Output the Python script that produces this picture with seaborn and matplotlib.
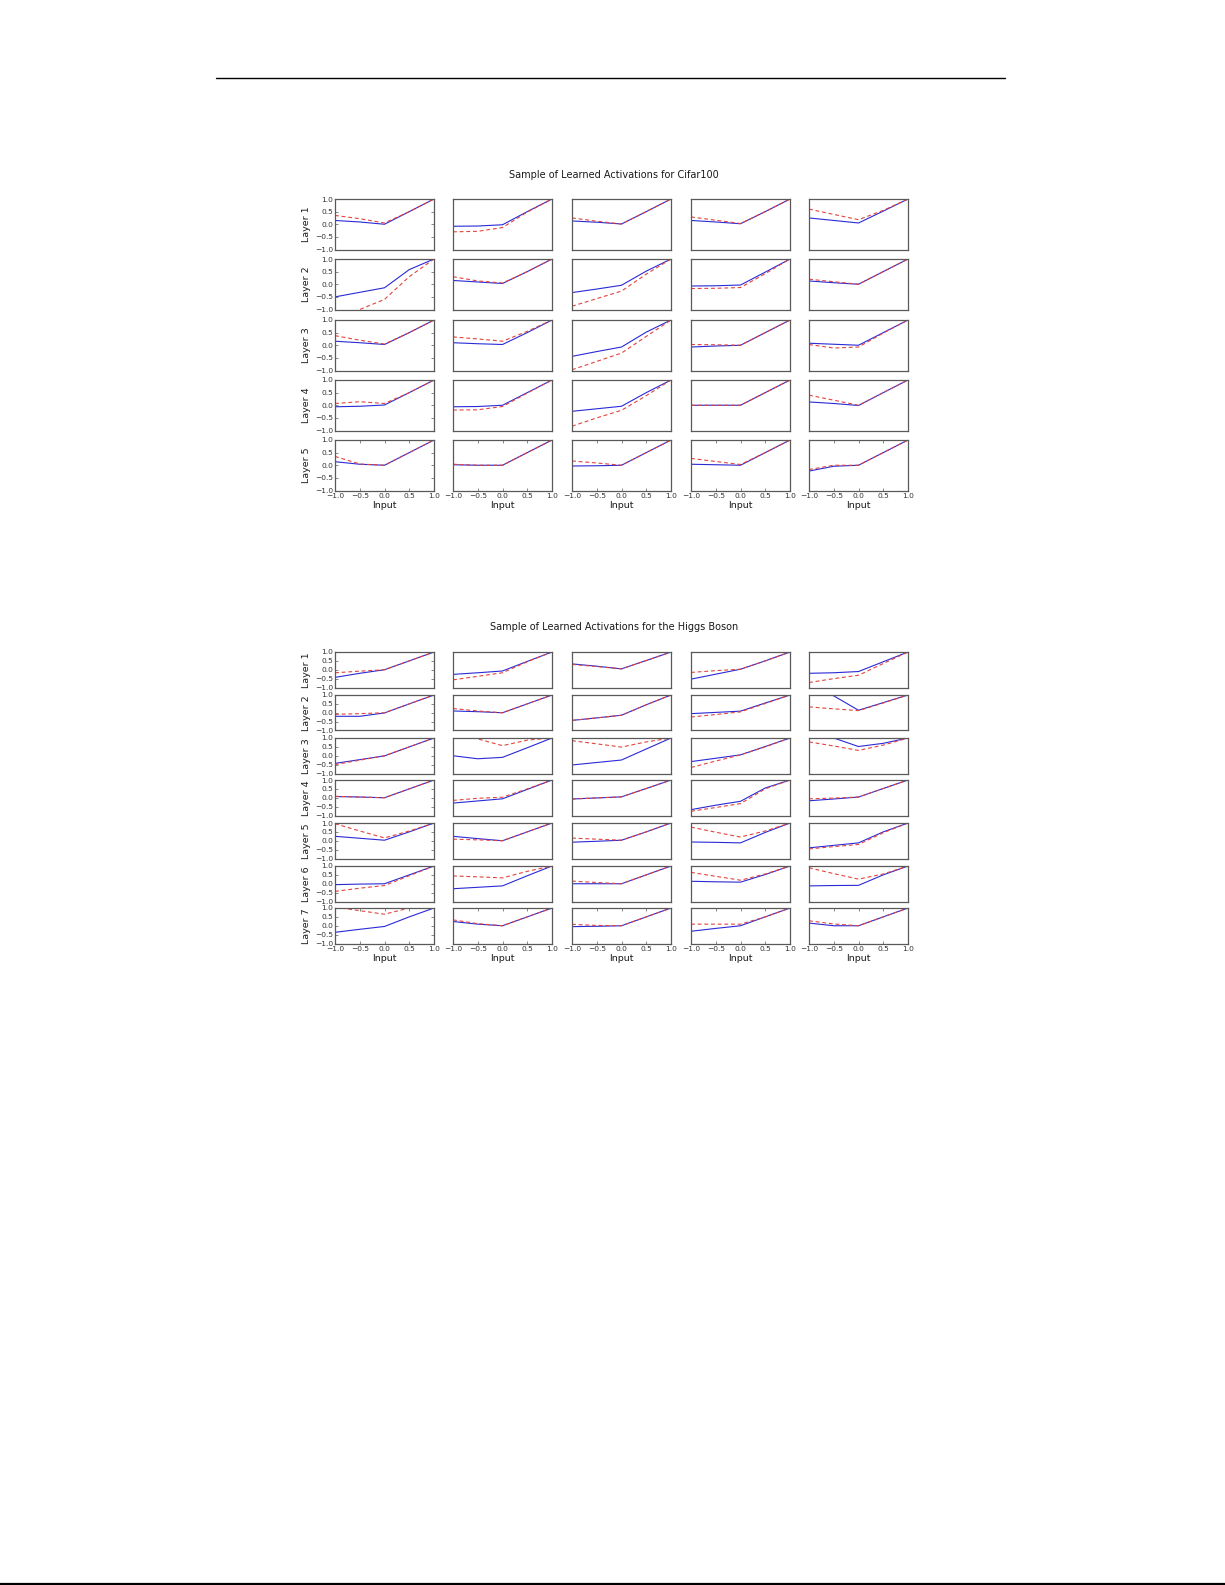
import matplotlib
matplotlib.use("Agg")
import matplotlib.pyplot as plt
from matplotlib.lines import Line2D
import seaborn as sns

# sample points along the input axis
x_in = [-1.0, -0.5, 0.0, 0.5, 1.0]
tick_vals = [-1.0, -0.5, 0.0, 0.5, 1.0]

cifar_title = "Sample of Learned Activations for Cifar100"
higgs_title = "Sample of Learned Activations for the Higgs Boson"

# Cifar100: [layer][sample] -> activation values at x_in
cifar_blue = [
    [[0.15, 0.09, 0.0, 0.5, 1], [-0.08, -0.07, -0.02, 0.5, 1], [0.13, 0.08, 0.01, 0.5, 1], [0.15, 0.09, 0.02, 0.5, 1], [0.25, 0.15, 0.05, 0.52, 1]],
    [[-0.5, -0.32, -0.14, 0.58, 1], [0.15, 0.09, 0.03, 0.5, 1], [-0.33, -0.19, -0.04, 0.52, 1], [-0.07, -0.06, -0.03, 0.48, 1], [0.13, 0.06, 0.0, 0.5, 1]],
    [[0.16, 0.1, 0.03, 0.5, 1], [0.1, 0.06, 0.03, 0.5, 1], [-0.44, -0.25, -0.07, 0.52, 1], [-0.07, -0.03, 0.0, 0.5, 1], [0.08, 0.04, 0.0, 0.5, 1]],
    [[-0.06, -0.04, 0.01, 0.5, 1], [-0.06, -0.05, 0.0, 0.5, 1], [-0.24, -0.14, -0.04, 0.5, 1], [0.0, 0.0, 0.0, 0.5, 1], [0.13, 0.07, -0.01, 0.5, 1]],
    [[0.14, 0.04, 0.0, 0.5, 1], [0.02, 0.0, 0.0, 0.5, 1], [-0.03, -0.02, 0.0, 0.5, 1], [0.04, 0.02, 0.0, 0.5, 1], [-0.23, -0.04, 0.0, 0.5, 1]],
]
cifar_red = [
    [[0.35, 0.22, 0.05, 0.5, 1], [-0.3, -0.28, -0.13, 0.48, 1], [0.25, 0.12, 0.01, 0.5, 1], [0.29, 0.16, 0.03, 0.5, 1], [0.6, 0.39, 0.18, 0.55, 1]],
    [[-1.35, -1.0, -0.6, 0.3, 1], [0.3, 0.13, 0.05, 0.5, 1], [-0.87, -0.57, -0.27, 0.4, 1], [-0.17, -0.16, -0.13, 0.42, 1], [0.2, 0.1, 0.0, 0.5, 1]],
    [[0.38, 0.2, 0.05, 0.5, 1], [0.33, 0.25, 0.16, 0.55, 1], [-0.97, -0.64, -0.31, 0.35, 1], [0.03, 0.02, 0.0, 0.5, 1], [0.03, -0.11, -0.07, 0.48, 1]],
    [[0.07, 0.14, 0.07, 0.5, 1], [-0.19, -0.18, -0.05, 0.48, 1], [-0.83, -0.5, -0.2, 0.38, 1], [0.0, 0.0, 0.0, 0.5, 1], [0.4, 0.2, 0.0, 0.5, 1]],
    [[0.35, 0.05, 0.0, 0.5, 1], [0.04, 0.0, 0.0, 0.5, 1], [0.17, 0.09, 0.0, 0.5, 1], [0.27, 0.15, 0.03, 0.5, 1], [-0.17, 0.0, 0.0, 0.5, 1]],
]

# Higgs Boson
higgs_blue = [
    [[-0.43, -0.2, 0.0, 0.5, 1], [-0.26, -0.17, -0.07, 0.47, 1], [0.33, 0.2, 0.05, 0.52, 1], [-0.53, -0.25, 0.03, 0.5, 1], [-0.2, -0.17, -0.1, 0.45, 1]],
    [[-0.2, -0.2, -0.01, 0.5, 1], [0.1, 0.06, 0.0, 0.5, 1], [-0.43, -0.29, -0.14, 0.45, 1], [-0.05, 0.02, 0.09, 0.55, 1], [1.6, 0.95, 0.14, 0.57, 1]],
    [[-0.43, -0.22, -0.01, 0.5, 1], [0.0, -0.17, -0.09, 0.45, 1], [-0.52, -0.38, -0.24, 0.38, 1], [-0.33, -0.14, 0.05, 0.52, 1], [1.5, 1.0, 0.52, 0.7, 1]],
    [[0.07, 0.04, 0.0, 0.5, 1], [-0.3, -0.18, -0.06, 0.47, 1], [-0.07, -0.01, 0.05, 0.52, 1], [-0.67, -0.42, -0.2, 0.55, 1], [-0.17, -0.07, 0.04, 0.52, 1]],
    [[0.25, 0.14, 0.03, 0.5, 1], [0.25, 0.12, 0.0, 0.5, 1], [-0.08, -0.03, 0.03, 0.5, 1], [-0.07, -0.09, -0.12, 0.47, 1], [-0.4, -0.26, -0.12, 0.5, 1]],
    [[-0.05, -0.02, 0.0, 0.5, 1], [-0.28, -0.2, -0.12, 0.45, 1], [0.0, 0.0, 0.0, 0.5, 1], [0.14, 0.11, 0.09, 0.52, 1], [-0.12, -0.1, -0.09, 0.5, 1]],
    [[-0.37, -0.2, -0.04, 0.5, 1], [0.24, 0.09, 0.0, 0.5, 1], [-0.05, -0.03, 0.0, 0.5, 1], [-0.31, -0.15, 0.0, 0.5, 1], [0.15, 0.0, 0.0, 0.5, 1]],
]
higgs_red = [
    [[-0.17, -0.08, 0.0, 0.5, 1], [-0.57, -0.37, -0.17, 0.45, 1], [0.3, 0.18, 0.05, 0.52, 1], [-0.15, -0.05, 0.03, 0.5, 1], [-0.72, -0.5, -0.31, 0.35, 1]],
    [[-0.09, -0.05, 0.0, 0.5, 1], [0.24, 0.1, 0.0, 0.5, 1], [-0.43, -0.29, -0.14, 0.45, 1], [-0.24, -0.1, 0.05, 0.52, 1], [0.33, 0.22, 0.12, 0.55, 1]],
    [[-0.5, -0.25, 0.0, 0.5, 1], [1.3, 0.95, 0.57, 0.88, 1], [0.85, 0.67, 0.49, 0.78, 1], [-0.66, -0.3, 0.05, 0.5, 1], [0.78, 0.55, 0.3, 0.6, 1]],
    [[0.08, 0.04, 0.0, 0.5, 1], [-0.15, -0.03, 0.03, 0.5, 1], [-0.07, -0.01, 0.05, 0.52, 1], [-0.76, -0.55, -0.33, 0.5, 1], [-0.06, -0.02, 0.04, 0.52, 1]],
    [[0.96, 0.55, 0.16, 0.55, 1], [0.09, 0.05, 0.0, 0.5, 1], [0.15, 0.09, 0.03, 0.5, 1], [0.77, 0.48, 0.21, 0.55, 1], [-0.46, -0.33, -0.21, 0.45, 1]],
    [[-0.43, -0.25, -0.1, 0.45, 1], [0.44, 0.39, 0.33, 0.7, 1], [0.15, 0.07, 0.0, 0.5, 1], [0.64, 0.42, 0.2, 0.55, 1], [0.9, 0.57, 0.26, 0.55, 1]],
    [[1.05, 0.85, 0.65, 1.0, 1.2], [0.33, 0.12, 0.0, 0.5, 1], [0.08, 0.02, 0.0, 0.5, 1], [0.09, 0.09, 0.09, 0.5, 1], [0.28, 0.1, 0.0, 0.5, 1]],
]

sns.set_style("white")
plt.rcParams['font.family'] = ['DejaVu Sans']

W, H = 1225, 1585
fig = plt.figure(figsize=(W / 100, H / 100), dpi=100)

col_left = [335, 453, 572, 691, 809]
ax_w = 99


def draw_grid(title, title_y, tops, ax_h, blue, red):
    fig.text(614 / W, 1 - title_y / H, title, ha='center', va='center',
             fontsize=7, color='0.1')
    n = len(tops)
    for i in range(n):
        for j in range(5):
            ax = fig.add_axes([col_left[j] / W, 1 - (tops[i] + ax_h) / H, ax_w / W, ax_h / H])
            sns.lineplot(x=x_in, y=blue[i][j], ax=ax, color='#2a2ad6', lw=0.8)
            sns.lineplot(x=x_in, y=red[i][j], ax=ax, color='#e2453c', lw=0.8,
                         linestyle=(0, (3.5, 2.5)))
            ax.set_xlim(-1, 1)
            ax.set_ylim(-1, 1)
            ax.set_xticks(tick_vals)
            ax.set_yticks(tick_vals)
            ax.set_xlabel('')
            ax.set_ylabel('')
            for sp in ax.spines.values():
                sp.set_color('0.35')
                sp.set_linewidth(0.9)
            ax.tick_params(direction='in', length=2.5, width=0.5, colors='0.35',
                           labelcolor='0.2', labelsize=5.4, pad=1.5)
            if j == 0:
                ax.tick_params(axis='y', left=True, right=True)
                ax.set_ylabel('Layer %d' % (i + 1), fontsize=6.8, labelpad=3, color='0.1')
            else:
                ax.tick_params(axis='y', left=False, right=False, labelleft=False)
            if i == n - 1:
                ax.tick_params(axis='x', bottom=True, top=True)
                ax.set_xlabel('Input', fontsize=6.8, labelpad=2, color='0.1')
            else:
                ax.tick_params(axis='x', bottom=False, top=False, labelbottom=False)


draw_grid(cifar_title, 175, [199, 259, 320, 380, 440], 50.5, cifar_blue, cifar_red)
draw_grid(higgs_title, 627, [652, 695, 738, 780, 823, 866, 908], 35.5, higgs_blue, higgs_red)

# page rules
fig.add_artist(Line2D([216 / W, 1005 / W], [1 - 78 / H, 1 - 78 / H], color='black', lw=1.0))
fig.add_artist(Line2D([0, 1], [1 - 1583.5 / H, 1 - 1583.5 / H], color='black', lw=1.6))

fig.savefig('out.png', dpi=100)
